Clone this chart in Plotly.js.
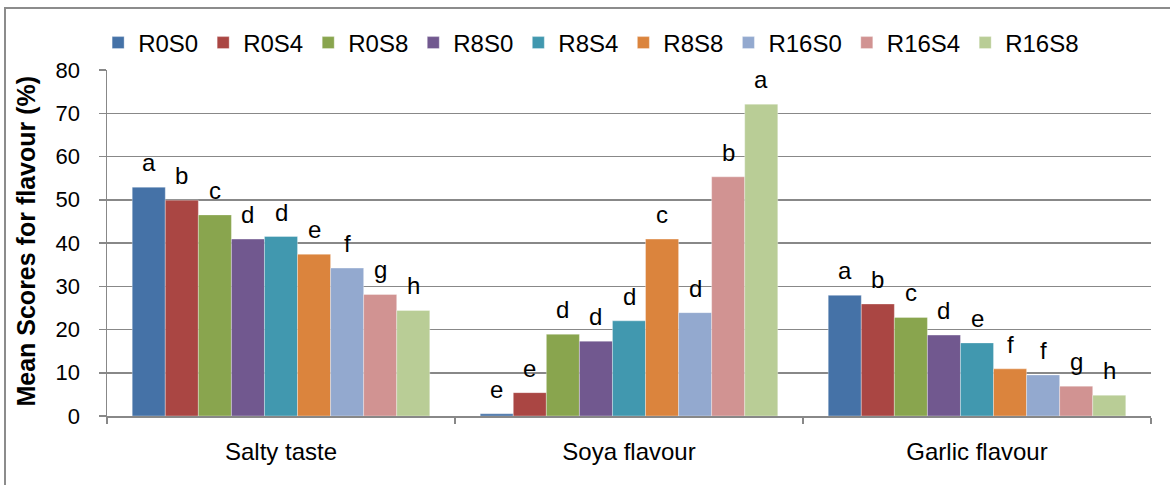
<!DOCTYPE html>
<html>
<head>
<meta charset="utf-8">
<script src="https://cdn.plot.ly/plotly-3.0.1.min.js"></script>
<style>
  html, body { margin: 0; padding: 0; background: #fff; }
  #wrap { position: relative; width: 1170px; height: 485px; overflow: hidden; }
  #chart { width: 1170px; height: 485px; }
  #frame { position: absolute; left: 4px; top: 7px; width: 1300px; height: 600px;
           border: 2px solid #8c8c8c; pointer-events: none; }
</style>
</head>
<body>
<div id="wrap">
  <div id="chart"></div>
  <div id="frame"></div>
</div>
<script>
// ---- data ----
const categories = ["Salty taste", "Soya flavour", "Garlic flavour"];
const seriesNames = ["R0S0", "R0S4", "R0S8", "R8S0", "R8S4", "R8S8", "R16S0", "R16S4", "R16S8"];
const R0S0  = [52.9, 0.5, 27.9];
const R0S4  = [49.9, 5.4, 25.9];
const R0S8  = [46.5, 18.9, 22.8];
const R8S0  = [40.9, 17.3, 18.7];
const R8S4  = [41.5, 22.0, 16.9];
const R8S8  = [37.4, 40.9, 10.9];
const R16S0 = [34.2, 23.9, 9.5];
const R16S4 = [28.1, 55.3, 6.9];
const R16S8 = [24.4, 72.1, 4.8];
// significance letters (per series, per category)
const L_R0S0  = ["a", "e", "a"];
const L_R0S4  = ["b", "e", "b"];
const L_R0S8  = ["c", "d", "c"];
const L_R8S0  = ["d", "d", "d"];
const L_R8S4  = ["d", "d", "e"];
const L_R8S8  = ["e", "c", "f"];
const L_R16S0 = ["f", "d", "f"];
const L_R16S4 = ["g", "b", "g"];
const L_R16S8 = ["h", "a", "h"];
const yTicks = [0, 10, 20, 30, 40, 50, 60, 70, 80];

const seriesValues = [R0S0, R0S4, R0S8, R8S0, R8S4, R8S8, R16S0, R16S4, R16S8];
const seriesLetters = [L_R0S0, L_R0S4, L_R0S8, L_R8S0, L_R8S4, L_R8S8, L_R16S0, L_R16S4, L_R16S8];
const colors = ["#4572A7", "#AA4643", "#89A54E", "#71588F", "#4198AF", "#DB843D", "#93A9CF", "#D19392", "#B9CD96"];

const FONT = '"Liberation Sans", Arial, sans-serif';
const BARGAP = 0.145;
const N = seriesNames.length;

const traces = seriesNames.map((name, i) => ({
  type: 'bar',
  name: name,
  x: categories,
  y: seriesValues[i],
  marker: { color: colors[i], line: { color: 'rgba(255,255,255,0.55)', width: 0.6 } },
  hoverinfo: 'x+y+name'
}));

// letter annotations placed over each bar (category index + group offset)
const annotations = [];
const groupW = 1 - BARGAP;
seriesNames.forEach((name, i) => {
  categories.forEach((c, ci) => {
    annotations.push({
      x: ci - groupW / 2 + (i + 0.5) * groupW / N,
      y: seriesValues[i][ci],
      xref: 'x', yref: 'y',
      text: seriesLetters[i][ci],
      showarrow: false,
      yanchor: 'bottom',
      yshift: 9,
      font: { family: FONT, size: 24, color: '#000' }
    });
  });
});
// y-axis title
annotations.push({
  xref: 'paper', yref: 'paper',
  x: -0.0776, y: 0.507,
  text: '<b>Mean Scores for flavour (%)</b>',
  textangle: -90,
  showarrow: false,
  xanchor: 'center', yanchor: 'middle',
  font: { family: FONT, size: 25, color: '#000' }
});

const layout = {
  width: 1170, height: 485,
  margin: { l: 107, r: 19, t: 70, b: 69 },
  paper_bgcolor: '#fff', plot_bgcolor: '#fff',
  font: { family: FONT, color: '#000' },
  barmode: 'group',
  bargap: BARGAP,
  bargroupgap: 0,
  showlegend: true,
  legend: {
    orientation: 'h',
    x: -0.0085, xanchor: 'left',
    y: 1.078, yanchor: 'middle',
    font: { family: FONT, size: 24, color: '#000' },
    bgcolor: 'rgba(0,0,0,0)',
    traceorder: 'normal'
  },
  xaxis: {
    type: 'category',
    showgrid: false,
    showline: true, linecolor: '#888888', linewidth: 1.5,
    ticks: 'outside', tickson: 'boundaries', ticklen: 6, tickcolor: '#888888', tickwidth: 1.5,
    tickfont: { family: FONT, size: 24, color: '#000' },
    ticklabelstandoff: 14,
    zeroline: false,
    fixedrange: true
  },
  yaxis: {
    range: [0, 80],
    tickvals: yTicks,
    ticktext: yTicks.map(String),
    showgrid: true, gridcolor: '#888888', gridwidth: 1.5,
    showline: true, linecolor: '#888888', linewidth: 1.5,
    ticks: 'outside', ticklen: 7, tickcolor: '#888888', tickwidth: 1.5,
    tickfont: { family: FONT, size: 22, color: '#000' },
    ticklabelstandoff: 14,
    zeroline: false,
    fixedrange: true
  },
  annotations: annotations
};

Plotly.newPlot('chart', traces, layout, { displayModeBar: false, staticPlot: true });
</script>
</body>
</html>
